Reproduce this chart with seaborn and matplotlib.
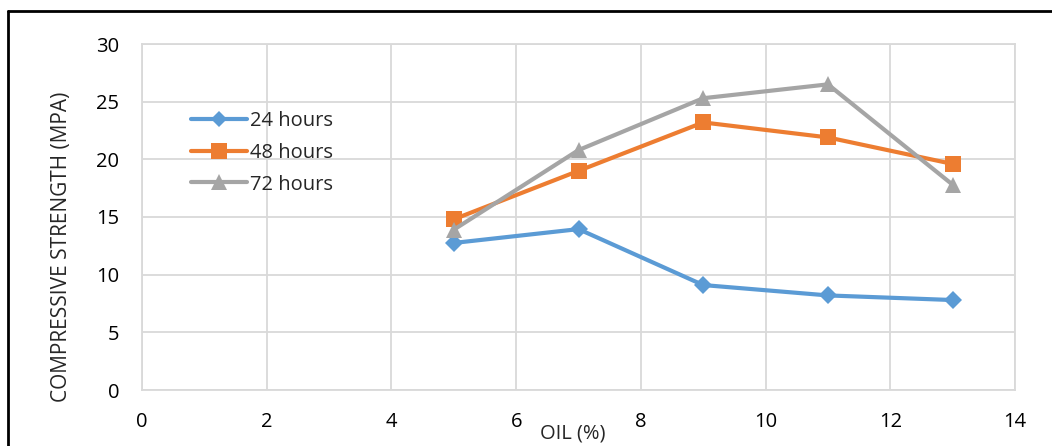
import numpy as np
import pandas as pd
import matplotlib
matplotlib.use("Agg")
import matplotlib.pyplot as plt
from matplotlib.lines import Line2D
import seaborn as sns

sns.set_style("white")
plt.rcParams['font.family'] = ['Open Sans', 'DejaVu Sans']

# Data
oil = [5, 7, 9, 11, 13]
h24 = [12.75, 13.95, 9.1, 8.2, 7.8]
h48 = [14.8, 19.0, 23.2, 21.9, 19.6]
h72 = [13.9, 20.8, 25.3, 26.5, 17.8]
series = ["24 hours", "48 hours", "72 hours"]
colors = ["#5B9BD5", "#ED7D31", "#A5A5A5"]
markers = ["D", "s", "^"]
xticks = [0, 2, 4, 6, 8, 10, 12, 14]
yticks = [0, 5, 10, 15, 20, 25, 30]

df = pd.DataFrame({"oil": oil * 3,
                   "strength": h24 + h48 + h72,
                   "age": np.repeat(series, len(oil))})

fig = plt.figure(figsize=(10.52, 4.46), dpi=100)
ax = fig.add_axes([142/1052, 1 - 390/446, (1015-142)/1052, (390-44)/446])

sizes = {"24 hours": 9, "48 hours": 11, "72 hours": 12}
for name, col, mk in zip(series, colors, markers):
    sub = df[df["age"] == name]
    sns.lineplot(data=sub, x="oil", y="strength", ax=ax, color=col, marker=mk,
                 markersize=sizes[name], markeredgewidth=0, linewidth=3,
                 label=name, zorder=3)

ax.set_xlim(0, 14)
ax.set_ylim(0, 30)
ax.set_xticks(xticks)
ax.set_yticks(yticks)
ax.grid(True, color="#D9D9D9", linewidth=1.3)
for s in ax.spines.values():
    s.set_color("#D9D9D9")
    s.set_linewidth(1.3)
ax.tick_params(axis="both", length=0, labelsize=14.5, colors="black")
ax.tick_params(axis="x", pad=16)
ax.tick_params(axis="y", pad=16.5)

ax.set_xlabel("OIL (%)", fontsize=14.5)
ax.xaxis.set_label_coords((573-142)/(1015-142), -0.098)
ax.set_ylabel("COMPRESSIVE STRENGTH (MPA)", fontsize=15)
ax.yaxis.set_label_coords(-0.08, 0.413)

handles = [Line2D([], [], color=c, marker=m, markersize=s, markeredgewidth=0,
                  linewidth=3)
           for c, m, s in zip(colors, markers, [8, 11, 12])]
ax.legend(handles, series, loc="upper left", bbox_to_anchor=(0.045, 0.835),
          frameon=False, fontsize=14.5, handlelength=2.75, handletextpad=0.15,
          labelspacing=0.58, borderpad=0)

# outer chart frame (top and left edges visible)
fig.add_artist(Line2D([8/1052, 1], [1 - 11/446, 1 - 11/446], color="black",
                      linewidth=2, transform=fig.transFigure))
fig.add_artist(Line2D([8/1052, 8/1052], [0, 1 - 11/446], color="black",
                      linewidth=2, transform=fig.transFigure))

fig.savefig("out.png", dpi=100)
